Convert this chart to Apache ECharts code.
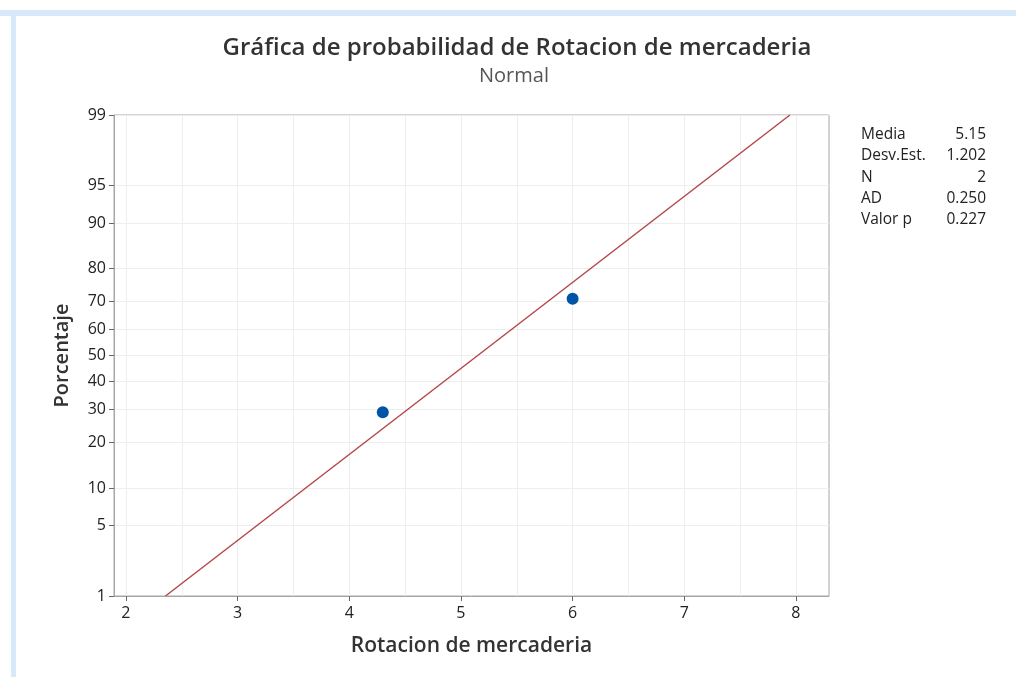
<!DOCTYPE html>
<html>
<head>
<meta charset="utf-8">
<script src="https://cdn.jsdelivr.net/npm/echarts@6/dist/echarts.min.js"></script>
<style>
html,body{margin:0;padding:0;background:#fff;}
#c{width:1016px;height:677px;}
</style>
</head>
<body>
<div id="c"></div>
<script>
// ---- data ----
const obsValues = [4.3, 6.0];            // Rotacion de mercaderia
const obsPercent = [29.17, 70.83];       // median-rank plotting positions (%)
const fitX = [2.354, 7.946];             // fitted normal line endpoints
const fitPercent = [1, 99];
const yTickPercents = [1, 5, 10, 20, 30, 40, 50, 60, 70, 80, 90, 95, 99];
const xTickLabels = [2, 3, 4, 5, 6, 7, 8];
const xGridValues = [2, 2.5, 3, 3.5, 4, 4.5, 5, 5.5, 6, 6.5, 7, 7.5, 8];
const statLabels = ['Media', 'Desv.Est.', 'N', 'AD', 'Valor p'];
const statValues = ['5.15', '1.202', '2', '0.250', '0.227'];

// inverse normal CDF (probability scale transform)
function probit(p) {
  const a = [-3.969683028665376e+01, 2.209460984245205e+02, -2.759285104469687e+02, 1.383577518672690e+02, -3.066479806614716e+01, 2.506628277459239e+00];
  const b = [-5.447609879822406e+01, 1.615858368580409e+02, -1.556989798598866e+02, 6.680131188771972e+01, -1.328068155288572e+01];
  const c = [-7.784894002430293e-03, -3.223964580411365e-01, -2.400758277161838e+00, -2.549732539343734e+00, 4.374664141464968e+00, 2.938163982698783e+00];
  const d = [7.784695709041462e-03, 3.224671290700398e-01, 2.445134137142996e+00, 3.754408661907416e+00];
  const pl = 0.02425, ph = 1 - pl;
  let q, r;
  if (p < pl) {
    q = Math.sqrt(-2 * Math.log(p));
    return (((((c[0]*q+c[1])*q+c[2])*q+c[3])*q+c[4])*q+c[5]) / ((((d[0]*q+d[1])*q+d[2])*q+d[3])*q+1);
  } else if (p <= ph) {
    q = p - 0.5; r = q*q;
    return (((((a[0]*r+a[1])*r+a[2])*r+a[3])*r+a[4])*r+a[5])*q / (((((b[0]*r+b[1])*r+b[2])*r+b[3])*r+b[4])*r+1);
  } else {
    q = Math.sqrt(-2 * Math.log(1 - p));
    return -(((((c[0]*q+c[1])*q+c[2])*q+c[3])*q+c[4])*q+c[5]) / ((((d[0]*q+d[1])*q+d[2])*q+d[3])*q+1);
  }
}
const z = pct => probit(pct / 100);
const yTickZ = yTickPercents.map(z);
function zLabel(v) {
  let best = 0, bd = Infinity;
  yTickZ.forEach((t, i) => { const dd = Math.abs(t - v); if (dd < bd) { bd = dd; best = i; } });
  return String(yTickPercents[best]);
}

const FONT = '"Open Sans", "Noto Sans", sans-serif';
const chart = echarts.init(document.getElementById('c'), null, {renderer: 'canvas'});

const statGraphics = [];
statLabels.forEach((s, i) => {
  statGraphics.push({type: 'text', x: 861, y: 126.5 + i * 21.3,
    style: {text: s, font: '15.5px ' + FONT, fill: '#222'}});
  statGraphics.push({type: 'text', x: 986, y: 126.5 + i * 21.3,
    style: {text: statValues[i], font: '15.5px ' + FONT, fill: '#222', textAlign: 'right'}});
});

chart.setOption({
  backgroundColor: '#ffffff',
  animation: false,
  graphic: [
    {type: 'rect', shape: {x: 0, y: 10, width: 1016, height: 6}, style: {fill: '#d7e8f8'}, silent: true},
    {type: 'rect', shape: {x: 11, y: 10, width: 5, height: 667}, style: {fill: '#d7e8f8'}, silent: true},
    {type: 'text', x: 517, y: 36, style: {text: 'Gráfica de probabilidad de Rotacion de mercaderia', font: '600 24px ' + FONT, fill: '#333', textAlign: 'center'}},
    {type: 'text', x: 514, y: 66, style: {text: 'Normal', font: '20px ' + FONT, fill: '#555', textAlign: 'center'}}
  ].concat(statGraphics),
  grid: {left: 114, right: 187, top: 115, bottom: 81, show: true, borderColor: '#a6a6a6', borderWidth: 1, backgroundColor: 'transparent'},
  xAxis: [{
    type: 'value', min: 1.893, max: 8.296,
    name: 'Rotacion de mercaderia', nameLocation: 'middle', nameGap: 40,
    nameTextStyle: {fontFamily: FONT, fontSize: 21, color: '#333', fontWeight: 600},
    axisLine: {show: true, onZero: false, lineStyle: {color: '#a6a6a6'}},
    axisTick: {show: true, length: 5, customValues: xTickLabels, lineStyle: {color: '#666'}},
    axisLabel: {customValues: xTickLabels, fontFamily: FONT, fontSize: 16, color: '#222', margin: 9},
    splitLine: {show: false}
  }, {
    type: 'value', min: 1.893, max: 8.296, position: 'bottom',
    axisLine: {show: false, onZero: false}, axisLabel: {show: false},
    axisTick: {show: false, customValues: xGridValues},
    splitLine: {show: true, lineStyle: {color: '#eeeeee', width: 1}}
  }],
  yAxis: {
    type: 'value', min: z(1), max: z(99),
    name: 'Porcentaje', nameLocation: 'middle', nameGap: 42,
    nameTextStyle: {fontFamily: FONT, fontSize: 20, color: '#333', fontWeight: 600},
    axisLine: {show: true, onZero: false, lineStyle: {color: '#a6a6a6'}},
    axisTick: {show: true, length: 5, customValues: yTickZ, lineStyle: {color: '#666'}},
    axisLabel: {customValues: yTickZ, formatter: zLabel, fontFamily: FONT, fontSize: 16, color: '#222', margin: 8},
    splitLine: {show: true, lineStyle: {color: '#eeeeee', width: 1}}
  },
  series: [{
    type: 'line', name: 'Ajuste',
    data: fitX.map((x, i) => [x, z(fitPercent[i])]),
    showSymbol: false, symbol: 'none',
    lineStyle: {color: '#b5474b', width: 1.5},
    z: 3
  }, {
    type: 'scatter', name: 'Datos',
    data: obsValues.map((x, i) => [x, z(obsPercent[i])]),
    symbol: 'circle', symbolSize: 12,
    itemStyle: {color: '#0054a6', opacity: 1},
    z: 4
  }]
});
</script>
</body>
</html>
